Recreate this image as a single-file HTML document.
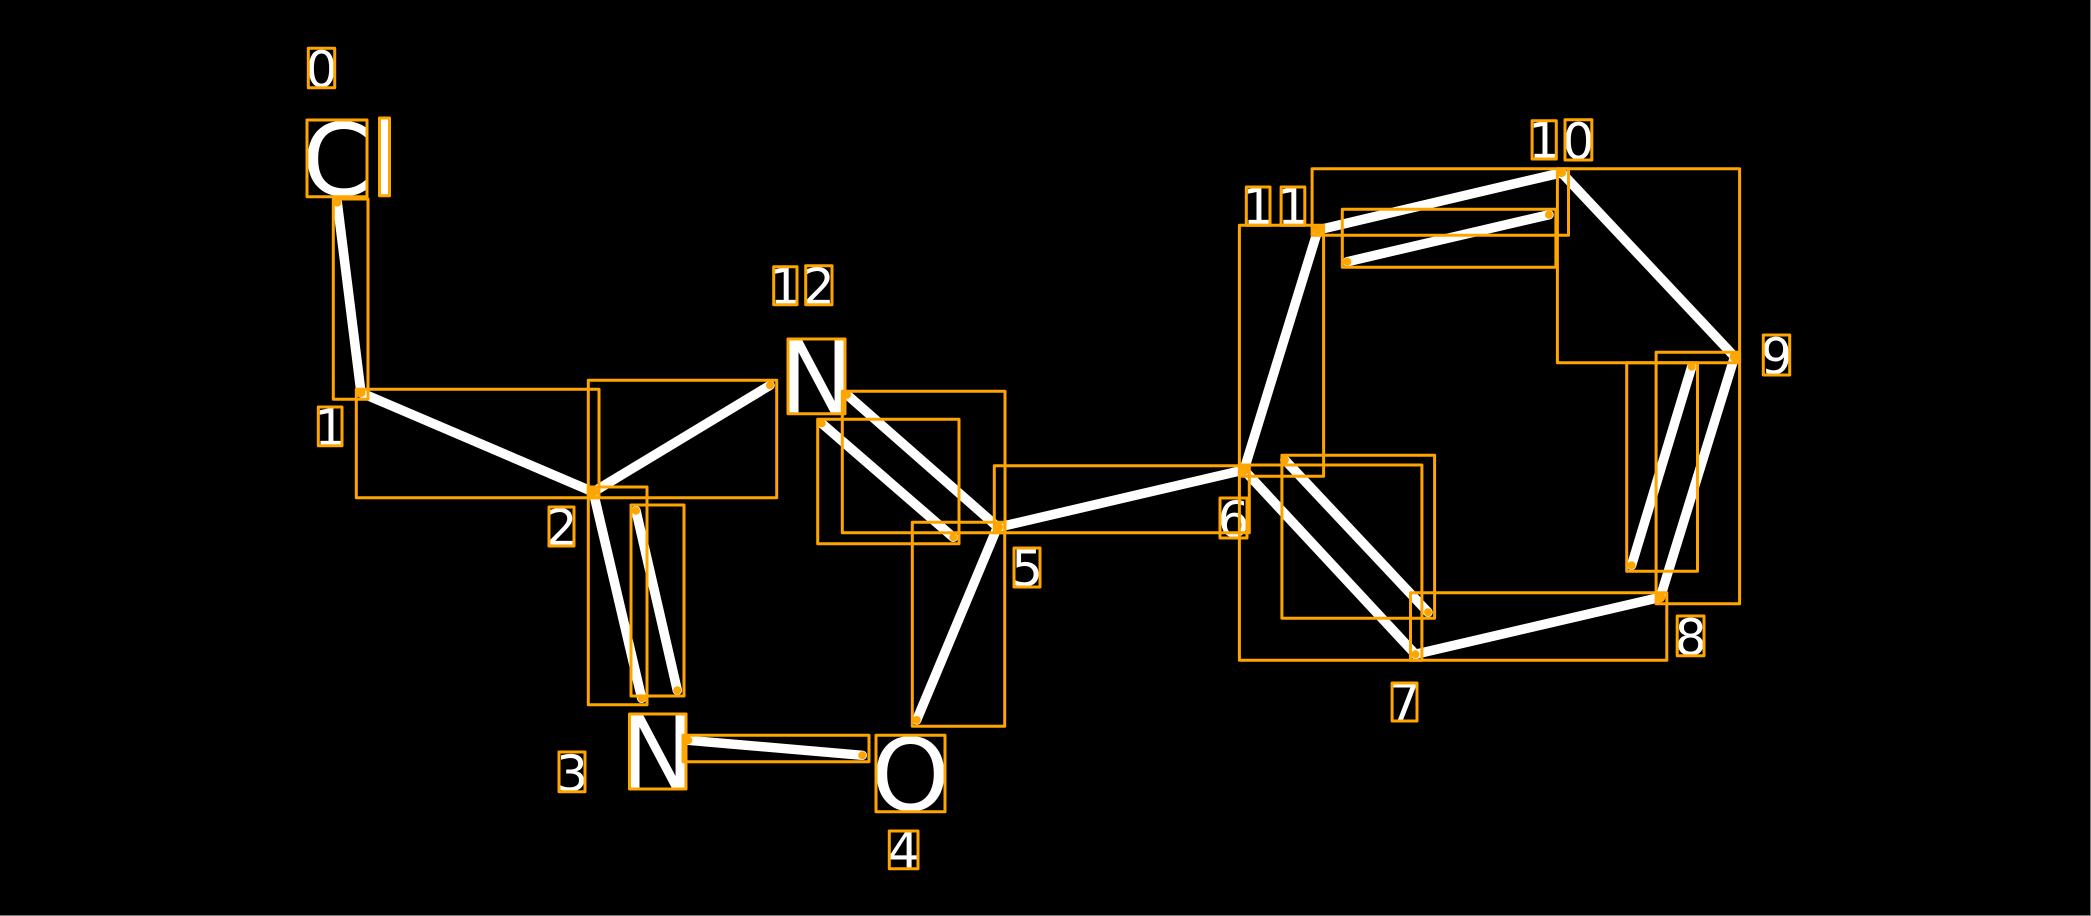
<!DOCTYPE html>
<html>
<head>
<meta charset="utf-8">
<style>
html,body{margin:0;padding:0;background:#000;width:2091px;height:916px;overflow:hidden}
svg{display:block}
text{font-family:"DejaVu Sans","Liberation Sans",sans-serif;fill:#fff;text-anchor:middle}
.b{font-size:100px}
.s{font-size:50px}
.l line{stroke:#fff;stroke-width:9.500;stroke-linecap:round}
.r rect{fill:none;stroke:#ffa500;stroke-width:3;stroke-linejoin:round}
.d circle{fill:#ffa500}
</style>
</head>
<body>
<svg width="2091" height="916" viewBox="0 0 2091 916" xmlns="http://www.w3.org/2000/svg">
<rect width="2091" height="916" fill="#000"/>
<rect x="0" y="915" width="2091" height="1" fill="#808080"/>
<rect x="2090" y="0" width="1" height="916" fill="#808080"/>

<g class="b">
<text x="337" y="195">C</text>
<text x="384.500" y="195">l</text>
<text x="816.500" y="413">N</text>
<text x="657.500" y="788">N</text>
<text x="910.500" y="810">O</text>
</g>
<g class="s">
<text x="321.500" y="87">0</text>
<text x="330.200" y="445">1</text>
<text x="561.500" y="545">2</text>
<text x="572" y="791">3</text>
<text x="903.700" y="868">4</text>
<text x="1027" y="586">5</text>
<text x="1233.500" y="537">6</text>
<text x="1404.600" y="720">7</text>
<text x="1690.600" y="655">8</text>
<text x="1776.500" y="374">9</text>
<text x="1544.200" y="158">1</text>
<text x="1578.400" y="159">0</text>
<text x="1258.200" y="224">1</text>
<text x="1293" y="224">1</text>
<text x="785.400" y="304">1</text>
<text x="818.900" y="304">2</text>
</g>

<g class="l">
<line x1="337.300" y1="202.700" x2="361" y2="392.700"/>
<line x1="361" y1="392.700" x2="593.300" y2="492"/>
<line x1="593.300" y1="492" x2="770" y2="385.300"/>
<line x1="593.300" y1="492" x2="641.700" y2="698.300"/>
<line x1="636" y1="510.700" x2="677.300" y2="690.300"/>
<line x1="688.300" y1="740.300" x2="862.300" y2="755.300"/>
<line x1="916.700" y1="720" x2="997.300" y2="527.300"/>
<line x1="847" y1="394.700" x2="998" y2="527.300"/>
<line x1="821.700" y1="423.300" x2="953.300" y2="537.300"/>
<line x1="998" y1="527.300" x2="1244" y2="470"/>
<line x1="1244" y1="470" x2="1317.900" y2="230"/>
<line x1="1317.900" y1="230" x2="1561.600" y2="172.700"/>
<line x1="1347.300" y1="261.700" x2="1549" y2="214.700"/>
<line x1="1561.600" y1="172.700" x2="1734.600" y2="356.700"/>
<line x1="1734.600" y1="356.700" x2="1660.300" y2="597.300"/>
<line x1="1691.700" y1="366.700" x2="1631.600" y2="565.300"/>
<line x1="1660.300" y1="597.300" x2="1415.400" y2="654.300"/>
<line x1="1415.400" y1="654.300" x2="1244" y2="470"/>
<line x1="1284.900" y1="460" x2="1428" y2="612.300"/>
</g>

<g class="r">
<rect x="308.300" y="48.300" width="26.400" height="39.400"/>
<rect x="307" y="120" width="60" height="76.700"/>
<rect x="379.500" y="118" width="10" height="77.700"/>
<rect x="333.300" y="199" width="34.700" height="200.300"/>
<rect x="356.300" y="389.300" width="242.700" height="108.400"/>
<rect x="588.300" y="380.300" width="188.400" height="117.400"/>
<rect x="318.300" y="407" width="23.700" height="38.700"/>
<rect x="788" y="339" width="57" height="74.700"/>
<rect x="773.700" y="266.700" width="23.300" height="38"/>
<rect x="805.700" y="265.700" width="26.300" height="39"/>
<rect x="842.300" y="391.300" width="162.700" height="141.400"/>
<rect x="817.700" y="419.300" width="141.300" height="124.400"/>
<rect x="994.300" y="465.700" width="255" height="67"/>
<rect x="1014" y="548" width="26" height="39"/>
<rect x="1220" y="498" width="27" height="40"/>
<rect x="549" y="507" width="25" height="39"/>
<rect x="588.300" y="487" width="58.700" height="217.700"/>
<rect x="631" y="505" width="53" height="191"/>
<rect x="629.500" y="714" width="56.500" height="75"/>
<rect x="559" y="752" width="26" height="39.700"/>
<rect x="683" y="735.300" width="186" height="26.400"/>
<rect x="876" y="735.300" width="69" height="76.400"/>
<rect x="889.300" y="831" width="28.700" height="37.700"/>
<rect x="912.300" y="522.300" width="92.400" height="204"/>
<rect x="1239.400" y="225.300" width="84.200" height="251"/>
<rect x="1312.100" y="168.700" width="256.400" height="66.600"/>
<rect x="1342.300" y="209.300" width="213.600" height="58"/>
<rect x="1557.400" y="168.700" width="182.200" height="194"/>
<rect x="1532.100" y="120.700" width="24.200" height="38.300"/>
<rect x="1565" y="119.700" width="26.800" height="40.300"/>
<rect x="1246.300" y="187" width="23.700" height="38.300"/>
<rect x="1281.100" y="187" width="23.700" height="38.300"/>
<rect x="1763.300" y="335" width="26.400" height="40"/>
<rect x="1656.100" y="352.300" width="83.500" height="251.400"/>
<rect x="1626.700" y="362.700" width="70.800" height="208.600"/>
<rect x="1410.500" y="592.700" width="256.300" height="67.600"/>
<rect x="1239.400" y="465" width="182.500" height="195.300"/>
<rect x="1281.900" y="455.300" width="152.700" height="163"/>
<rect x="1677.200" y="616" width="26.800" height="39.700"/>
<rect x="1392.100" y="683" width="24.900" height="38"/>
</g>

<g class="d">
<circle cx="337.300" cy="202.700" r="4"/>
<circle cx="361" cy="392.700" r="4.500"/>
<circle cx="593.300" cy="492" r="5"/>
<circle cx="770" cy="385.300" r="4"/>
<circle cx="641.700" cy="698.300" r="4"/>
<circle cx="636" cy="510.700" r="4"/>
<circle cx="677.300" cy="690.300" r="4"/>
<circle cx="688.300" cy="740.300" r="4"/>
<circle cx="862.300" cy="755.300" r="4"/>
<circle cx="916.700" cy="720" r="4"/>
<circle cx="998" cy="527.300" r="5"/>
<circle cx="847" cy="394.700" r="4"/>
<circle cx="821.700" cy="423.300" r="4"/>
<circle cx="953.300" cy="537.300" r="4"/>
<circle cx="1244" cy="470" r="5"/>
<circle cx="1317.900" cy="230" r="5"/>
<circle cx="1561.600" cy="172.700" r="4.500"/>
<circle cx="1347.300" cy="261.700" r="4"/>
<circle cx="1549" cy="214.700" r="4"/>
<circle cx="1734.600" cy="356.700" r="5"/>
<circle cx="1660.300" cy="597.300" r="5"/>
<circle cx="1691.700" cy="366.700" r="4"/>
<circle cx="1631.600" cy="565.300" r="4"/>
<circle cx="1415.400" cy="654.300" r="4"/>
<circle cx="1284.900" cy="460" r="4"/>
<circle cx="1428" cy="612.300" r="4"/>
</g>
</svg>
</body>
</html>
